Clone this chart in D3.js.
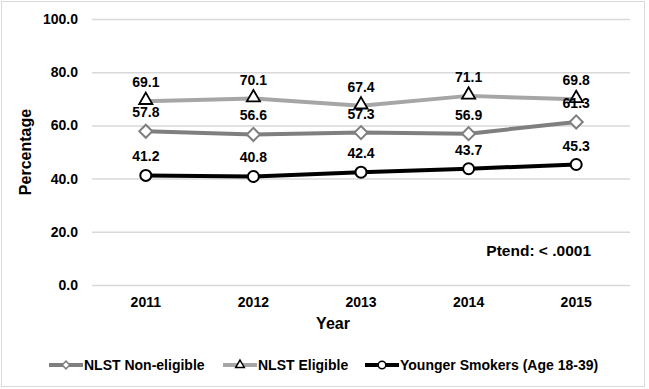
<!DOCTYPE html>
<html><head><meta charset="utf-8">
<script src="https://cdn.jsdelivr.net/npm/d3@7"></script>
<style>body{margin:0;background:#fff;} text{font-family:"Liberation Sans",Arial,sans-serif;font-weight:bold;fill:#000;}</style>
</head><body>
<svg id="c" width="649" height="389"></svg>
<script>
const years = ["2011","2012","2013","2014","2015"];
const nonEligible = [57.8, 56.6, 57.3, 56.9, 61.3];
const eligible = [69.1, 70.1, 67.4, 71.1, 69.8];
const younger = [41.2, 40.8, 42.4, 43.7, 45.3];
const yTicks = [0, 20, 40, 60, 80, 100];
const seriesNames = ["NLST Non-eligible", "NLST Eligible", "Younger Smokers (Age 18-39)"];

const series = [
  {name: seriesNames[0], values: nonEligible, color: "#7f7f7f", marker: "diamond", mstroke: "#7f7f7f"},
  {name: seriesNames[1], values: eligible, color: "#a6a6a6", marker: "triangle", mstroke: "#000"},
  {name: seriesNames[2], values: younger, color: "#000", marker: "circle", mstroke: "#000"}
];

const svg = d3.select("#c");
svg.append("rect").attr("x",1.5).attr("y",1.5).attr("width",643).attr("height",385)
  .attr("fill","#fff").attr("stroke","#d9d9d9").attr("stroke-width",1);

const x = d3.scaleBand().domain(years).range([92, 630]);
const y = d3.scaleLinear().domain([0, 100]).range([285, 19]);
const cx = d => x(d) + x.bandwidth()/2;

// gridlines
const yAxis = d3.axisLeft(y).tickValues(yTicks).tickFormat(d3.format(".1f")).tickSize(-(630-92)).tickPadding(14);
const gy = svg.append("g").attr("transform","translate(92,0)").call(yAxis);
gy.select(".domain").remove();
gy.selectAll(".tick line").attr("stroke","#d9d9d9").attr("stroke-width",1.5);
gy.selectAll(".tick text").style("font-size","14px").attr("x",-14);

const xAxis = d3.axisBottom(x).tickSize(0).tickPadding(12);
const gx = svg.append("g").attr("transform","translate(0,285)").call(xAxis);
gx.select(".domain").remove();
gx.selectAll(".tick text").style("font-size","14px");

svg.append("text").attr("x",333).attr("y",329).attr("text-anchor","middle").style("font-size","16px").text("Year");
svg.append("text").attr("transform","translate(31,152) rotate(-90)").attr("text-anchor","middle").style("font-size","16px").text("Percentage");
svg.append("text").attr("x",591).attr("y",256).attr("text-anchor","end").style("font-size","15.5px").text("Ptend: < .0001");

const symbolFor = (m, size) => {
  if (m === "diamond") return d3.symbol().type(d3.symbolSquare).size(size)();
  if (m === "triangle") return d3.symbol().type(d3.symbolTriangle).size(size)();
  return d3.symbol().type(d3.symbolCircle).size(size)();
};
const msize = {diamond: 85, triangle: 75, circle: 95};

const line = d3.line().x((d,i) => cx(years[i])).y(d => y(d));
series.forEach(s => {
  svg.append("path").datum(s.values).attr("d", line).attr("fill","none")
    .attr("stroke", s.color).attr("stroke-width", 4).attr("stroke-linejoin","round");
});
series.forEach(s => {
  const g = svg.append("g");
  s.values.forEach((v,i) => {
    g.append("path").attr("d", symbolFor(s.marker, msize[s.marker]))
      .attr("transform", `translate(${cx(years[i])},${y(v) + (s.marker==="triangle"?-1:0)})` + (s.marker==="diamond"?" rotate(45)":""))
      .attr("fill","#fff").attr("stroke", s.mstroke).attr("stroke-width", s.marker==="triangle"?1.8:2);
  });
});
series.forEach(s => {
  s.values.forEach((v,i) => {
    svg.append("text").attr("x", cx(years[i])).attr("y", y(v) - 14)
      .attr("text-anchor","middle").style("font-size","14px").text(d3.format(".1f")(v));
  });
});

// legend
const legendItems = [
  {s: series[0], x0: 49},
  {s: series[1], x0: 223},
  {s: series[2], x0: 365}
];
legendItems.forEach(({s, x0}) => {
  const ly = 365;
  svg.append("line").attr("x1", x0).attr("x2", x0+34).attr("y1", ly).attr("y2", ly)
    .attr("stroke", s.color).attr("stroke-width", 4);
  const sz = {diamond: 30, triangle: 32, circle: 45}[s.marker];
  svg.append("path").attr("d", symbolFor(s.marker, sz))
    .attr("transform", `translate(${x0+17},${ly})` + (s.marker==="diamond"?" rotate(45)":""))
    .attr("fill","#fff").attr("stroke", s.mstroke).attr("stroke-width", 1.5);
  svg.append("text").attr("x", x0+35).attr("y", ly+5).style("font-size","14px").text(s.name);
});
</script>
</body></html>
